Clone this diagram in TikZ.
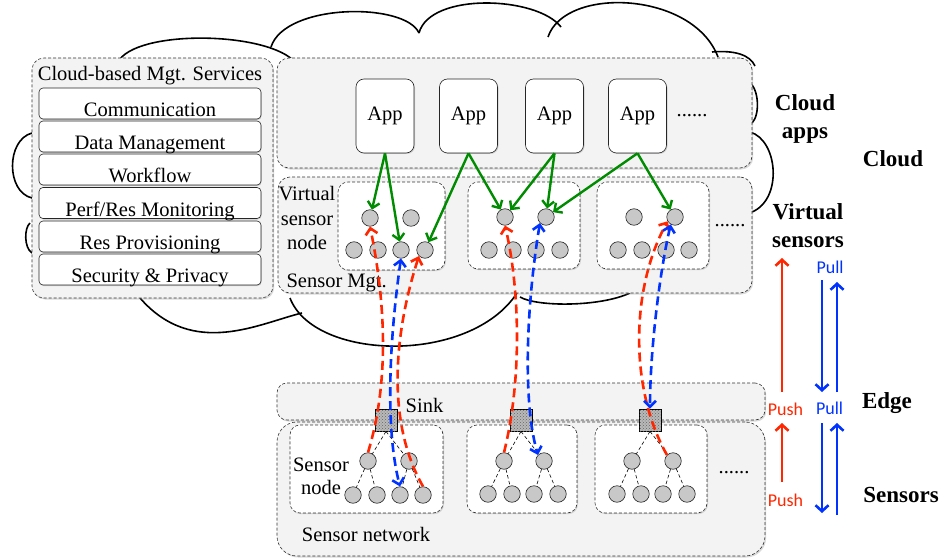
\documentclass[tikz,border=0pt]{standalone}
\usepackage{fontspec}
\setmainfont{Liberation Serif}
\newfontfamily\calibri{Carlito}
\usetikzlibrary{arrows.meta,shadows,patterns}
\definecolor{pushred}{RGB}{255,38,0}
\definecolor{pullblue}{RGB}{0,51,255}
\definecolor{appgreen}{RGB}{0,140,0}
\definecolor{panelgray}{RGB}{243,243,243}
\definecolor{nodegray}{RGB}{200,200,200}

\begin{document}
\begin{tikzpicture}[
x=1pt, y=-1pt,
every node/.style={font=\fontsize{20.5}{24.5}\selectfont},
cloudline/.style={draw=black, line width=1.6pt},
panel/.style={draw=black!80, densely dashed, line width=0.6pt, fill=panelgray, rounded corners=12pt, inner sep=0pt, drop shadow={shadow xshift=1.2pt, shadow yshift=-1.5pt, opacity=0.3}},
vbox/.style={draw=black!80, densely dashed, line width=0.6pt, fill=white, rounded corners=10pt, inner sep=0pt, drop shadow={shadow xshift=1pt, shadow yshift=-1.2pt, opacity=0.3}},
svc/.style={draw=black!85, line width=0.6pt, fill=white, rounded corners=4pt, minimum width=222pt, minimum height=31pt, inner sep=0pt, text height=26pt, text depth=0pt, drop shadow={shadow xshift=0.6pt, shadow yshift=-1pt, opacity=0.35}},
app/.style={draw=black!85, line width=0.6pt, fill=white, rounded corners=8pt, minimum width=58pt, minimum height=74pt, inner sep=0pt, drop shadow={shadow xshift=1pt, shadow yshift=-1pt, opacity=0.3}},
sensor/.style={circle, draw=black!85, line width=0.6pt, fill=nodegray, minimum size=16.5pt, inner sep=0pt},
sinkbox/.style={draw=black, line width=0.8pt, minimum size=22pt, inner sep=0pt, fill=gray!55, postaction={pattern=crosshatch dots, pattern color=black!60}},
treeline/.style={draw=black, line width=0.6pt, dash pattern=on 3.5pt off 2.5pt},
appline/.style={draw=appgreen, line width=2.4pt, -{Straight Barb[length=6pt,width=12pt]}},
pushline/.style={draw=pushred, line width=2.6pt, dash pattern=on 9pt off 5pt, -{Straight Barb[length=6pt,width=12pt]}},
pullline/.style={draw=pullblue, line width=2.6pt, dash pattern=on 9pt off 5pt, {Straight Barb[length=6pt,width=12pt]}-{Straight Barb[length=6pt,width=12pt]}},
pusharrow/.style={draw=pushred, line width=2.6pt, -{Straight Barb[length=6pt,width=13pt]}},
pullarrow/.style={draw=pullblue, line width=2.6pt, -{Straight Barb[length=6pt,width=13pt]}},
layer/.style={font=\fontsize{23}{28}\selectfont\bfseries, align=center},
pp/.style={font=\calibri\fontsize{18}{20}\selectfont}
]
\useasboundingbox (0,0) rectangle (945,559);

% cloud outline
\draw[cloudline] (118,62) .. controls (135,30) and (261,31) .. (293,60);
\draw[cloudline] (271,47) .. controls (285,3) and (405,2) .. (419,33);
\draw[cloudline] (419,33) .. controls (430,-8) and (537,-4) .. (561,27);
\draw[cloudline] (548,37) .. controls (565,-14) and (693,-9) .. (718,57);
\draw[cloudline] (712,52) .. controls (735,50) and (750,55) .. (755,66);
\draw[cloudline] (750,83) .. controls (759,90) and (760,115) .. (752,123);
\draw[cloudline] (750,132) .. controls (778,140) and (783,199) .. (752,212);
\draw[cloudline] (630,293) .. controls (600,307) and (537,307) .. (520,297);
\draw[cloudline] (517,293) .. controls (470,365) and (314,361) .. (290,298);
\draw[cloudline] (302,313) .. controls (260,323) and (193,359) .. (140,298);
\draw[cloudline] (32,133) .. controls (6,140) and (6,192) .. (32,198);
\draw[cloudline] (30,223) .. controls (24,228) and (24,248) .. (32,253);

% panels
\node[panel, minimum width=241pt, minimum height=240pt] (mgt) at (152.5,178) {};
\node[panel, minimum width=475pt, minimum height=110pt] (apps) at (514.5,113) {};
\node[panel, minimum width=474pt, minimum height=116pt] (virt) at (515,235) {};
\node[panel, minimum width=488pt, minimum height=37pt, rounded corners=10pt] (sink) at (521,401.5) {};
\node[panel, minimum width=488pt, minimum height=134pt, rounded corners=20pt] (snet) at (521,489) {};

% management services
\node (mgttitle) at (150,76) {Cloud-based Mgt. Services};
\node[svc] (s1) at (150,103.5) {Communication};
\node[svc] (s2) at (150,136.5) {Data Management};
\node[svc] (s3) at (150,169.5) {Workflow};
\node[svc] (s4) at (150,203) {Perf/Res Monitoring};
\node[svc] (s5) at (150,236.5) {Res Provisioning};
\node[svc] (s6) at (150,269.5) {Security \& Privacy};

% cloud apps
\node[app] (app1) at (385,116) {App};
\node[app] (app2) at (468.5,116) {App};
\node[app] (app3) at (554.5,116) {App};
\node[app] (app4) at (637.5,116) {App};
\node (appdots) at (692,116) {......};

% virtual sensor nodes
\node[vbox, minimum width=107pt, minimum height=88pt] (vn1) at (391.5,226) {};
\node[vbox, minimum width=112pt, minimum height=87pt] (vn2) at (524,225.5) {};
\node[vbox, minimum width=112pt, minimum height=87pt] (vn3) at (653,225.5) {};
\node (vndots) at (730,226) {......};
\node[align=center] (vnlabel) at (307,218) {Virtual\\sensor\\node};
\node[anchor=west] (mgtlabel) at (283,283) {Sensor Mgt.};

\node[sensor] (vn1t1) at (370,218) {};
\node[sensor] (vn1t2) at (411,218) {};
\node[sensor] (vn1b1) at (354,250) {};
\node[sensor] (vn1b2) at (378,250) {};
\node[sensor] (vn1b3) at (401,250) {};
\node[sensor] (vn1b4) at (425,250) {};

\node[sensor] (vn2t1) at (505,217) {};
\node[sensor] (vn2t2) at (546,217) {};
\node[sensor] (vn2b1) at (489,250) {};
\node[sensor] (vn2b2) at (513,250) {};
\node[sensor] (vn2b3) at (536,250) {};
\node[sensor] (vn2b4) at (560,250) {};

\node[sensor] (vn3t1) at (634,217) {};
\node[sensor] (vn3t2) at (675,217) {};
\node[sensor] (vn3b1) at (618,250) {};
\node[sensor] (vn3b2) at (642,250) {};
\node[sensor] (vn3b3) at (666,250) {};
\node[sensor] (vn3b4) at (689,250) {};

% sensor networks
\node (sinklabel) at (424.5,405) {Sink};
\node[vbox, minimum width=153pt, minimum height=88pt] (sn1) at (366.5,469) {};
\node[vbox, minimum width=110pt, minimum height=88pt] (sn2) at (522,469) {};
\node[vbox, minimum width=112pt, minimum height=88pt] (sn3) at (651,469) {};
\node (sndots) at (734,473) {......};
\node[align=center, font=\fontsize{20.5}{23}\selectfont] (snlabel) at (321,476.5) {Sensor\\node};
\node (snetlabel) at (366,534) {Sensor network};

\node[sensor] (sn1m1) at (368,461) {};
\node[sensor] (sn1m2) at (409,461) {};
\node[sensor] (sn1b1) at (353,495) {};
\node[sensor] (sn1b2) at (377,495) {};
\node[sensor] (sn1b3) at (400,495) {};
\node[sensor] (sn1b4) at (423,495) {};

\node[sensor] (sn2m1) at (504,461) {};
\node[sensor] (sn2m2) at (544,461) {};
\node[sensor] (sn2b1) at (488,494) {};
\node[sensor] (sn2b2) at (512,494) {};
\node[sensor] (sn2b3) at (534,494) {};
\node[sensor] (sn2b4) at (558,494) {};

\node[sensor] (sn3m1) at (632,461) {};
\node[sensor] (sn3m2) at (673,461) {};
\node[sensor] (sn3b1) at (617,494) {};
\node[sensor] (sn3b2) at (641,494) {};
\node[sensor] (sn3b3) at (663,494) {};
\node[sensor] (sn3b4) at (687,494) {};

% sinks
\node[sinkbox] (sk1) at (386,420) {};
\node[sinkbox] (sk2) at (521,420) {};
\node[sinkbox] (sk3) at (650,420) {};

% sensor trees
\draw[treeline] (sk1.south) -- (sn1m1);
\draw[treeline] (sk1.south) -- (sn1m2);
\draw[treeline] (sn1m1) -- (sn1b1);
\draw[treeline] (sn1m1) -- (sn1b2);
\draw[treeline] (sn1m2) -- (sn1b3);
\draw[treeline] (sn1m2) -- (sn1b4);
\draw[treeline] (sk2.south) -- (sn2m1);
\draw[treeline] (sk2.south) -- (sn2m2);
\draw[treeline] (sn2m1) -- (sn2b1);
\draw[treeline] (sn2m1) -- (sn2b2);
\draw[treeline] (sn2m2) -- (sn2b3);
\draw[treeline] (sn2m2) -- (sn2b4);
\draw[treeline] (sk3.south) -- (sn3m1);
\draw[treeline] (sk3.south) -- (sn3m2);
\draw[treeline] (sn3m1) -- (sn3b1);
\draw[treeline] (sn3m1) -- (sn3b2);
\draw[treeline] (sn3m2) -- (sn3b3);
\draw[treeline] (sn3m2) -- (sn3b4);

% apps to virtual sensors
\draw[appline] (app1.south) -- (vn1t1);
\draw[appline] (app1.south) -- (vn1b3);
\draw[appline] (app2.south) -- (vn1b4);
\draw[appline] (app2.south) -- (vn2t1);
\draw[appline] (app3.south) -- (vn2t1);
\draw[appline] (app3.south) -- (vn2t2);
\draw[appline] (app4.south) -- (vn2t2);
\draw[appline] (app4.south) -- (vn3t2);

% push and pull paths
\draw[pushline] (sn1m1.north) .. controls (390,380) and (385,300) .. (vn1t1.south);
\draw[pushline] (sn1b4.north) .. controls (385,420) and (395,330) .. (vn1b4.south west);
\draw[pullline] (vn1b3.south) .. controls (392,320) and (383,420) .. (sn1b3.north);
\draw[pushline] (sn2m1.north) .. controls (522,380) and (520,290) .. (vn2t1.south);
\draw[pullline] (vn2t2.south west) .. controls (527,300) and (522,400) .. (sn2m2.north west);
\draw[pushline] (sn3m2.north west) .. controls (630,390) and (630,290) .. (vn3t2.210);
\draw[pullline] (vn3t2.240) .. controls (660,270) and (650,350) .. (sk3.north);

% layer labels
\node[layer] (lapps) at (805,119) {Cloud\\apps};
\node[layer] (lcloud) at (893,159) {Cloud};
\node[layer] (lvirt) at (808,226) {Virtual\\sensors};
\node[layer] (ledge) at (887,403) {Edge};
\node[layer] (lsens) at (901,495) {Sensors};

% push / pull legend
\node[pp, text=pullblue] (pulltop) at (830,267) {Pull};
\node[pp, text=pushred] (pushedge) at (785.5,409) {Push};
\node[pp, text=pullblue] (pulledge) at (829.5,408) {Pull};
\node[pp, text=pushred] (pushsens) at (785.5,500) {Push};

\coordinate (ra1) at (782,392);
\coordinate (ra2) at (782,258);
\coordinate (ra3) at (782,482);
\coordinate (ra4) at (782,423);
\coordinate (bd1) at (822,280);
\coordinate (bd2) at (822,392);
\coordinate (bd3) at (822,423);
\coordinate (bd4) at (822,513);
\coordinate (bu1) at (837,392);
\coordinate (bu2) at (837,282);
\coordinate (bu3) at (837,515);
\coordinate (bu4) at (837,423);
\draw[pusharrow] (ra1) -- (ra2);
\draw[pusharrow] (ra3) -- (ra4);
\draw[pullarrow] (bd1) -- (bd2);
\draw[pullarrow] (bd3) -- (bd4);
\draw[pullarrow] (bu1) -- (bu2);
\draw[pullarrow] (bu3) -- (bu4);

\end{tikzpicture}
\end{document}
